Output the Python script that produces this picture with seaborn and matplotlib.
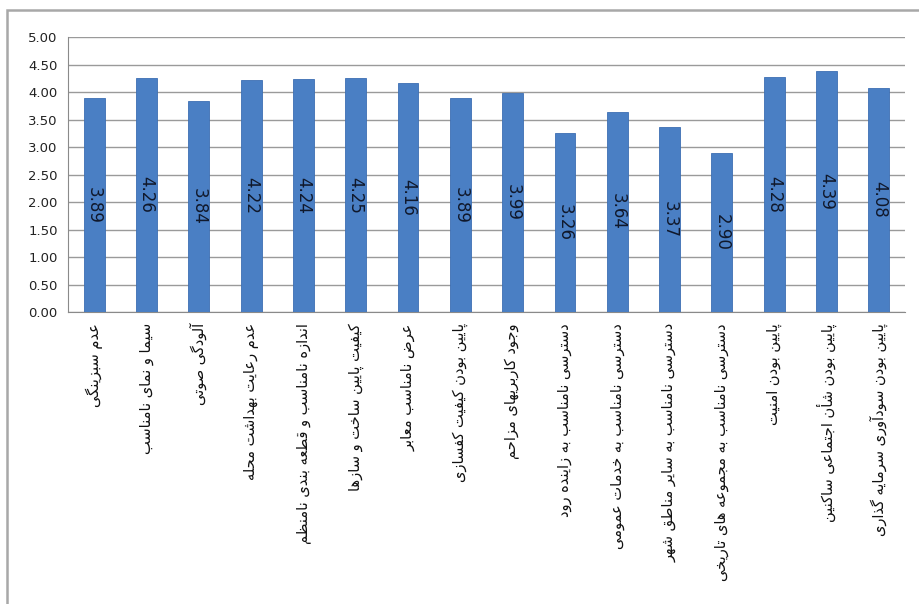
import pandas as pd
import matplotlib
matplotlib.use('Agg')
import matplotlib.pyplot as plt
import seaborn as sns
from matplotlib.patches import Rectangle

# ---- data ----
problems = [
    'عدم سبزینگی',
    'سیما و نمای نامناسب',
    'آلودگی صوتی',
    'عدم رعایت بهداشت محله',
    'اندازه نامناسب و قطعه بندی نامنظم',
    'کیفیت پایین ساخت و سازها',
    'عرض نامناسب معابر',
    'پایین بودن کیفیت کفسازی',
    'وجود کاربریهای مزاحم',
    'دسترسی نامناسب به زاینده رود',
    'دسترسی نامناسب به خدمات عمومی',
    'دسترسی نامناسب به سایر مناطق شهر',
    'دسترسی نامناسب به مجموعه های تاریخی',
    'پایین بودن امنیت',
    'پایین بودن شأن اجتماعی ساکنین',
    'پایین بودن سودآوری سرمایه گذاری',
]
scores = [3.89, 4.26, 3.84, 4.22, 4.24, 4.25, 4.16, 3.89,
          3.99, 3.26, 3.64, 3.37, 2.90, 4.28, 4.39, 4.08]
y_ticks = [0, 0.5, 1, 1.5, 2, 2.5, 3, 3.5, 4, 4.5, 5]

# matplotlib has no Arabic shaping, so pick the presentation forms by hand
# (isolated, final, initial, medial); None = letter only joins to the right
FORMS = {
    '\u0622': ('\uFE81', '\uFE82', None, None),
    '\u0623': ('\uFE83', '\uFE84', None, None),
    '\u0627': ('\uFE8D', '\uFE8E', None, None),
    '\u0628': ('\uFE8F', '\uFE90', '\uFE91', '\uFE92'),
    '\u062A': ('\uFE95', '\uFE96', '\uFE97', '\uFE98'),
    '\u062C': ('\uFE9D', '\uFE9E', '\uFE9F', '\uFEA0'),
    '\u062D': ('\uFEA1', '\uFEA2', '\uFEA3', '\uFEA4'),
    '\u062E': ('\uFEA5', '\uFEA6', '\uFEA7', '\uFEA8'),
    '\u062F': ('\uFEA9', '\uFEAA', None, None),
    '\u0630': ('\uFEAB', '\uFEAC', None, None),
    '\u0631': ('\uFEAD', '\uFEAE', None, None),
    '\u0632': ('\uFEAF', '\uFEB0', None, None),
    '\u0633': ('\uFEB1', '\uFEB2', '\uFEB3', '\uFEB4'),
    '\u0634': ('\uFEB5', '\uFEB6', '\uFEB7', '\uFEB8'),
    '\u0635': ('\uFEB9', '\uFEBA', '\uFEBB', '\uFEBC'),
    '\u0636': ('\uFEBD', '\uFEBE', '\uFEBF', '\uFEC0'),
    '\u0637': ('\uFEC1', '\uFEC2', '\uFEC3', '\uFEC4'),
    '\u0638': ('\uFEC5', '\uFEC6', '\uFEC7', '\uFEC8'),
    '\u0639': ('\uFEC9', '\uFECA', '\uFECB', '\uFECC'),
    '\u0641': ('\uFED1', '\uFED2', '\uFED3', '\uFED4'),
    '\u0642': ('\uFED5', '\uFED6', '\uFED7', '\uFED8'),
    '\u0644': ('\uFEDD', '\uFEDE', '\uFEDF', '\uFEE0'),
    '\u0645': ('\uFEE1', '\uFEE2', '\uFEE3', '\uFEE4'),
    '\u0646': ('\uFEE5', '\uFEE6', '\uFEE7', '\uFEE8'),
    '\u0647': ('\uFEE9', '\uFEEA', '\uFEEB', '\uFEEC'),
    '\u0648': ('\uFEED', '\uFEEE', None, None),
    '\u067E': ('\uFB56', '\uFB57', '\uFB58', '\uFB59'),
    '\u0698': ('\uFB8A', '\uFB8B', None, None),
    '\u06A9': ('\uFB8E', '\uFB8F', '\uFB90', '\uFB91'),
    '\u06AF': ('\uFB92', '\uFB93', '\uFB94', '\uFB95'),
    '\u06CC': ('\uFBFC', '\uFBFD', '\uFBFE', '\uFBFF'),
}


def shape(text):
    out = []
    for i, ch in enumerate(text):
        if ch not in FORMS:
            out.append(ch)
            continue
        iso, fin, ini, med = FORMS[ch]
        prev = text[i - 1] if i > 0 else ''
        nxt = text[i + 1] if i + 1 < len(text) else ''
        join_prev = prev in FORMS and FORMS[prev][2] is not None
        join_next = ini is not None and nxt in FORMS
        if join_prev and join_next:
            out.append(med)
        elif join_prev:
            out.append(fin)
        elif join_next:
            out.append(ini)
        else:
            out.append(iso)
    # right-to-left: reverse into visual order
    return ''.join(reversed(out))


df = pd.DataFrame({'problem': problems, 'score': scores})

sns.set_style('white')
plt.rcParams['font.family'] = ['DejaVu Sans']

fig = plt.figure(figsize=(9.2, 6.04), dpi=100)
ax = fig.add_axes([0.0739, 0.4834, 0.9098, 0.4553])

sns.barplot(data=df, x='problem', y='score', order=problems,
            color='#4a7fc4', saturation=1, width=0.4,
            edgecolor='#3d6fb3', linewidth=0.6, ax=ax, zorder=3)

ax.bar_label(ax.containers[0], labels=[f'{v:.2f}' for v in scores],
             label_type='center', rotation=-90, fontsize=12, color='#10182b')

ax.set_ylim(0, 5)
ax.set_xlim(-0.5, len(problems) - 0.5)
ax.set_yticks(y_ticks)
ax.set_yticklabels([f'{t:.2f}' for t in y_ticks], fontsize=9.5, color='#222222')
ax.grid(axis='y', color='#9a9a9a', linewidth=1, zorder=0)

ax.set_xticks(range(len(problems)))
ax.set_xticklabels([shape(p) for p in problems], rotation=90,
                   ha='center', va='top', fontsize=10.5, color='#111111')
ax.set_xticks([i - 0.5 for i in range(len(problems) + 1)], minor=True)
ax.tick_params(axis='x', which='major', length=0, pad=8)
ax.tick_params(axis='x', which='minor', length=5, color='#8a8a8a', direction='out')
ax.tick_params(axis='y', length=4, color='#8a8a8a', direction='out')

for side in ['top', 'right']:
    ax.spines[side].set_visible(False)
for side in ['left', 'bottom']:
    ax.spines[side].set_color('#8a8a8a')

ax.set_xlabel('')
ax.set_ylabel('')

# outer chart frame (only left/top edges are inside the image)
fig.patches.append(Rectangle((7 / 920, -0.1), 1.2, 1 - 10 / 604 + 0.1,
                             transform=fig.transFigure, fill=False,
                             edgecolor='#a8a8a8', linewidth=1.8))

fig.savefig('out.png', dpi=100)
